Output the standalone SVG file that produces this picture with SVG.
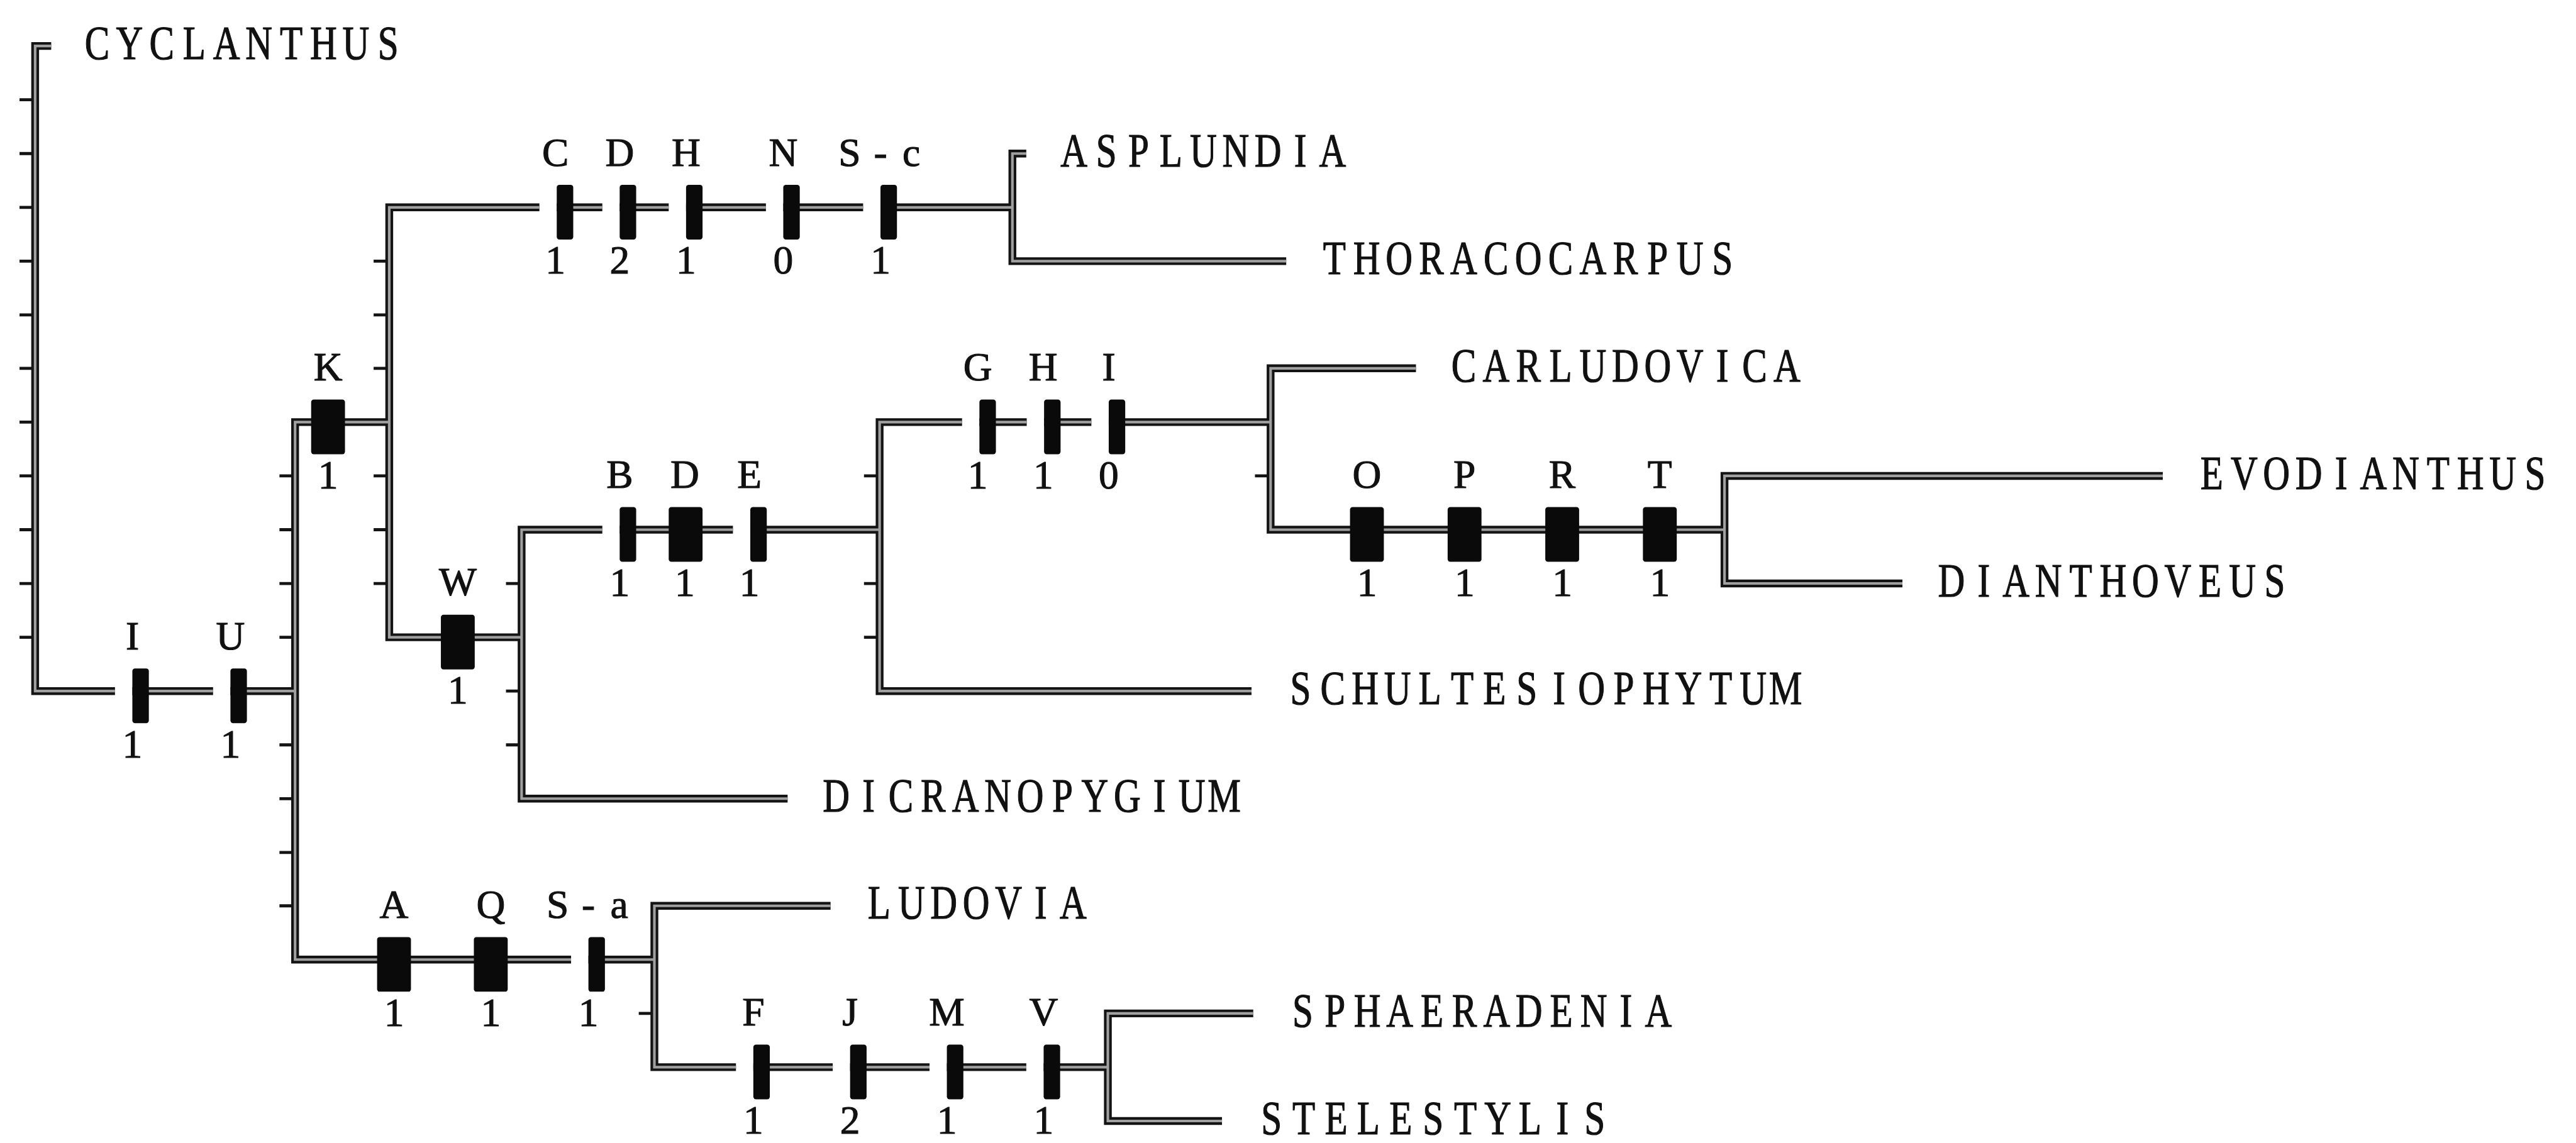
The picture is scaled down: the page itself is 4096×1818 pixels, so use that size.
<svg xmlns="http://www.w3.org/2000/svg" xmlns:xlink="http://www.w3.org/1999/xlink" width="4096" height="1818" viewBox="0 0 4096 1818">
<style>
.o{fill:none;stroke:#141414;stroke-width:18;stroke-linecap:butt;stroke-linejoin:miter}
.i{fill:none;stroke:#a0a0a0;stroke-width:6;stroke-linecap:butt;stroke-linejoin:miter}
.tk{fill:none;stroke:#141414;stroke-width:7}
.bar{fill:#0a0a0a}
.nm{font-family:"Liberation Serif","DejaVu Serif",serif;font-size:110px;fill:#111;stroke:#111;stroke-width:1.8;text-anchor:middle}
.lb{font-family:"Liberation Serif","DejaVu Serif",serif;font-size:92px;fill:#111;stroke:#111;stroke-width:1.6;text-anchor:middle}
</style>
<defs>
<path id="c1" d="M118,106 H81 V1593 H265"/>
<path id="c2" d="M305,1593 H491"/>
<path id="c3" d="M531,1593 H680"/>
<path id="c4" d="M897,973 H680 V2212 H1316"/>
<path id="c5" d="M1243,478 H897 V1469 H1202"/>
<path id="c6" d="M1283,478 H1388 M1428,478 H1541 M1581,478 H1765 M1805,478 H1989 M2029,478 H2333"/>
<path id="c7" d="M2365,354 H2333 V602 H2964"/>
<path id="c8" d="M1388,1221 H1202 V1841 H1815"/>
<path id="c9" d="M1428,1221 H1689 M1729,1221 H2027"/>
<path id="c10" d="M2217,973 H2027 V1593 H2884"/>
<path id="c11" d="M2257,973 H2366 M2406,973 H2515 M2555,973 H2928"/>
<path id="c12" d="M3263,849 H2928 V1221 H3974"/>
<path id="c13" d="M4984,1097 H3974 V1345 H4384"/>
<path id="c14" d="M1356,2212 H1508"/>
<path id="c15" d="M1914,2088 H1508 V2460 H1696"/>
<path id="c16" d="M1736,2460 H1919 M1959,2460 H2142 M2182,2460 H2365 M2405,2460 H2553"/>
<path id="c17" d="M2888,2336 H2553 V2584 H2816"/>
</defs>
<rect x="0" y="0" width="4096" height="1818" fill="#ffffff"/>
<g transform="scale(0.69)">
<g id="connectors">
<g class="o">
<use xlink:href="#c1"/><use xlink:href="#c2"/><use xlink:href="#c3"/><use xlink:href="#c4"/><use xlink:href="#c5"/><use xlink:href="#c6"/><use xlink:href="#c7"/><use xlink:href="#c8"/><use xlink:href="#c9"/><use xlink:href="#c10"/><use xlink:href="#c11"/><use xlink:href="#c12"/><use xlink:href="#c13"/><use xlink:href="#c14"/><use xlink:href="#c15"/><use xlink:href="#c16"/><use xlink:href="#c17"/>
</g>
<g class="i">
<use xlink:href="#c1"/><use xlink:href="#c2"/><use xlink:href="#c3"/><use xlink:href="#c4"/><use xlink:href="#c5"/><use xlink:href="#c6"/><use xlink:href="#c7"/><use xlink:href="#c8"/><use xlink:href="#c9"/><use xlink:href="#c10"/><use xlink:href="#c11"/><use xlink:href="#c12"/><use xlink:href="#c13"/><use xlink:href="#c14"/><use xlink:href="#c15"/><use xlink:href="#c16"/><use xlink:href="#c17"/>
</g>
<path class="tk" d="M45,230 H73 M45,354 H73 M45,478 H73 M45,602 H73 M45,726 H73 M45,849 H73 M45,973 H73 M45,1097 H73 M45,1221 H73 M45,1345 H73 M45,1469 H73
M644,1097 H672 M644,1221 H672 M644,1345 H672 M644,1469 H672 M644,1717 H672 M644,1841 H672 M644,1965 H672 M644,2088 H672
M861,602 H889 M861,726 H889 M861,849 H889 M861,1097 H889 M861,1221 H889 M861,1345 H889
M1166,1345 H1194 M1166,1593 H1194 M1166,1717 H1194
M1991,1097 H2019 M1991,1345 H2019 M1991,1469 H2019
M2892,1097 H2920
M1472,2336 H1500"/>
</g>

<g id="taxa">
<g id="t-cyclanthus"><text class="nm" transform="translate(224,136) scale(0.78,1)" x="0 95.5 191 286.5 382 477.6 573.1 668.6 764.1 859.6 955.1 1050.6 1146.2 1241.7 1337.2 1432.7">CYCLANTHUS</text></g>
<g id="t-asplundia"><text class="nm" transform="translate(2475,384) scale(0.78,1)" x="0 95.5 191 286.5 382 477.6 573.1 668.6 764.1 859.6 955.1 1050.6 1146.2 1241.7 1337.2 1432.7">ASPLUNDIA</text></g>
<g id="t-thoracocarpus"><text class="nm" transform="translate(3075,632) scale(0.78,1)" x="0 95.5 191 286.5 382 477.6 573.1 668.6 764.1 859.6 955.1 1050.6 1146.2 1241.7 1337.2 1432.7">THORACOCARPUS</text></g>
<g id="t-carludovica"><text class="nm" transform="translate(3373,879) scale(0.78,1)" x="0 95.5 191 286.5 382 477.6 573.1 668.6 764.1 859.6 955.1 1050.6 1146.2 1241.7 1337.2 1432.7">CARLUDOVICA</text></g>
<g id="t-evodianthus"><text class="nm" transform="translate(5097,1127) scale(0.78,1)" x="0 95.5 191 286.5 382 477.6 573.1 668.6 764.1 859.6 955.1 1050.6 1146.2 1241.7 1337.2 1432.7">EVODIANTHUS</text></g>
<g id="t-dianthoveus"><text class="nm" transform="translate(4497,1375) scale(0.78,1)" x="0 95.5 191 286.5 382 477.6 573.1 668.6 764.1 859.6 955.1 1050.6 1146.2 1241.7 1337.2 1432.7">DIANTHOVEUS</text></g>
<g id="t-schultesiophytum"><text class="nm" transform="translate(2997,1623) scale(0.78,1)" x="0 95.5 191 286.5 382 477.6 573.1 668.6 764.1 859.6 955.1 1050.6 1146.2 1241.7 1337.2 1432.7">SCHULTESIOPHYTUM</text></g>
<g id="t-dicranopygium"><text class="nm" transform="translate(1927,1871) scale(0.78,1)" x="0 95.5 191 286.5 382 477.6 573.1 668.6 764.1 859.6 955.1 1050.6 1146.2 1241.7 1337.2 1432.7">DICRANOPYGIUM</text></g>
<g id="t-ludovia"><text class="nm" transform="translate(2026,2118) scale(0.78,1)" x="0 95.5 191 286.5 382 477.6 573.1 668.6 764.1 859.6 955.1 1050.6 1146.2 1241.7 1337.2 1432.7">LUDOVIA</text></g>
<g id="t-sphaeradenia"><text class="nm" transform="translate(3002,2366) scale(0.78,1)" x="0 95.5 191 286.5 382 477.6 573.1 668.6 764.1 859.6 955.1 1050.6 1146.2 1241.7 1337.2 1432.7">SPHAERADENIA</text></g>
<g id="t-stelestylis"><text class="nm" transform="translate(2930,2614) scale(0.78,1)" x="0 95.5 191 286.5 382 477.6 573.1 668.6 764.1 859.6 955.1 1050.6 1146.2 1241.7 1337.2 1432.7">STELESTYLIS</text></g>
</g>

<g id="characters">
<g id="ch-I-root"><rect class="bar" x="305" y="1541" width="38" height="126" rx="6"/><text class="lb" x="305" y="1497">I</text><text class="lb" x="305" y="1746">1</text></g>
<g id="ch-U"><rect class="bar" x="531" y="1541" width="38" height="126" rx="6"/><text class="lb" x="531" y="1497">U</text><text class="lb" x="531" y="1746">1</text></g>
<g id="ch-K"><rect class="bar" x="717" y="921" width="78" height="126" rx="6"/><text class="lb" x="756" y="877">K</text><text class="lb" x="756" y="1126">1</text></g>
<g id="ch-W"><rect class="bar" x="1016" y="1417" width="78" height="126" rx="6"/><text class="lb" x="1055" y="1373">W</text><text class="lb" x="1055" y="1622">1</text></g>

<g id="ch-C"><rect class="bar" x="1283" y="426" width="38" height="126" rx="6"/><text class="lb" x="1280" y="382">C</text><text class="lb" x="1280" y="631">1</text></g>
<g id="ch-D-top"><rect class="bar" x="1428" y="426" width="38" height="126" rx="6"/><text class="lb" x="1428" y="382">D</text><text class="lb" x="1428" y="631">2</text></g>
<g id="ch-H-top"><rect class="bar" x="1581" y="426" width="38" height="126" rx="6"/><text class="lb" x="1581" y="382">H</text><text class="lb" x="1581" y="631">1</text></g>
<g id="ch-N"><rect class="bar" x="1805" y="426" width="38" height="126" rx="6"/><text class="lb" x="1805" y="382">N</text><text class="lb" x="1805" y="631">0</text></g>
<g id="ch-S-c"><rect class="bar" x="2029" y="426" width="38" height="126" rx="6"/><text class="lb" x="1958 2029 2100" y="382">S-c</text><text class="lb" x="2029" y="631">1</text></g>

<g id="ch-B"><rect class="bar" x="1428" y="1169" width="38" height="126" rx="6"/><text class="lb" x="1428" y="1125">B</text><text class="lb" x="1428" y="1374">1</text></g>
<g id="ch-D-mid"><rect class="bar" x="1541" y="1169" width="78" height="126" rx="6"/><text class="lb" x="1578" y="1125">D</text><text class="lb" x="1578" y="1374">1</text></g>
<g id="ch-E"><rect class="bar" x="1729" y="1169" width="38" height="126" rx="6"/><text class="lb" x="1727" y="1125">E</text><text class="lb" x="1727" y="1374">1</text></g>

<g id="ch-G"><rect class="bar" x="2257" y="921" width="38" height="126" rx="6"/><text class="lb" x="2253" y="877">G</text><text class="lb" x="2253" y="1126">1</text></g>
<g id="ch-H-mid"><rect class="bar" x="2406" y="921" width="38" height="126" rx="6"/><text class="lb" x="2404" y="877">H</text><text class="lb" x="2404" y="1126">1</text></g>
<g id="ch-I-mid"><rect class="bar" x="2555" y="921" width="38" height="126" rx="6"/><text class="lb" x="2555" y="877">I</text><text class="lb" x="2555" y="1126">0</text></g>

<g id="ch-O"><rect class="bar" x="3111" y="1169" width="78" height="126" rx="6"/><text class="lb" x="3150" y="1125">O</text><text class="lb" x="3150" y="1374">1</text></g>
<g id="ch-P"><rect class="bar" x="3336" y="1169" width="78" height="126" rx="6"/><text class="lb" x="3375" y="1125">P</text><text class="lb" x="3375" y="1374">1</text></g>
<g id="ch-R"><rect class="bar" x="3561" y="1169" width="78" height="126" rx="6"/><text class="lb" x="3600" y="1125">R</text><text class="lb" x="3600" y="1374">1</text></g>
<g id="ch-T"><rect class="bar" x="3786" y="1169" width="78" height="126" rx="6"/><text class="lb" x="3825" y="1125">T</text><text class="lb" x="3825" y="1374">1</text></g>

<g id="ch-A"><rect class="bar" x="869" y="2160" width="78" height="126" rx="6"/><text class="lb" x="908" y="2116">A</text><text class="lb" x="908" y="2365">1</text></g>
<g id="ch-Q"><rect class="bar" x="1092" y="2160" width="78" height="126" rx="6"/><text class="lb" x="1131" y="2116">Q</text><text class="lb" x="1131" y="2365">1</text></g>
<g id="ch-S-a"><rect class="bar" x="1356" y="2160" width="38" height="126" rx="6"/><text class="lb" x="1285 1356 1427" y="2116">S-a</text><text class="lb" x="1356" y="2365">1</text></g>

<g id="ch-F"><rect class="bar" x="1736" y="2408" width="38" height="126" rx="6"/><text class="lb" x="1736" y="2364">F</text><text class="lb" x="1736" y="2613">1</text></g>
<g id="ch-J"><rect class="bar" x="1959" y="2408" width="38" height="126" rx="6"/><text class="lb" x="1959" y="2364">J</text><text class="lb" x="1959" y="2613">2</text></g>
<g id="ch-M"><rect class="bar" x="2182" y="2408" width="38" height="126" rx="6"/><text class="lb" x="2182" y="2364">M</text><text class="lb" x="2182" y="2613">1</text></g>
<g id="ch-V"><rect class="bar" x="2405" y="2408" width="38" height="126" rx="6"/><text class="lb" x="2405" y="2364">V</text><text class="lb" x="2405" y="2613">1</text></g>
</g>
</g>
</svg>
